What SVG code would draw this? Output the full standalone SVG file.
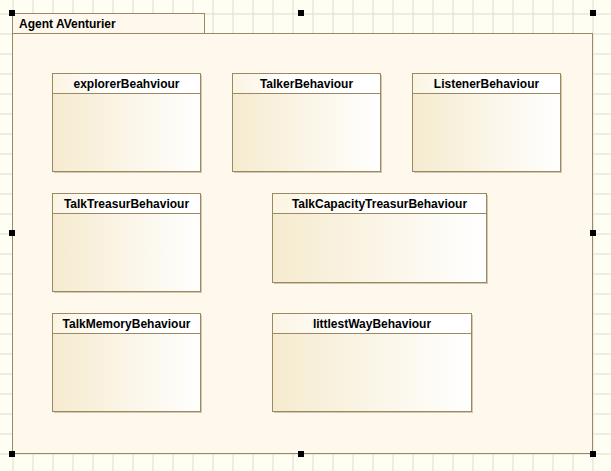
<svg xmlns="http://www.w3.org/2000/svg" width="611" height="471" viewBox="0 0 611 471">
<defs>
<pattern id="grid" x="12.5" y="13.5" width="20" height="20" patternUnits="userSpaceOnUse">
<path d="M0 0.5H20M0.5 0V20" fill="none" stroke="#dcdcd2" stroke-width="1"/>
</pattern>
<linearGradient id="cls" x1="0" y1="0" x2="1" y2="0">
<stop offset="0" stop-color="#f6ebcf"/>
<stop offset="1" stop-color="#ffffff"/>
</linearGradient>
<linearGradient id="hdr" x1="0" y1="0" x2="1" y2="0">
<stop offset="0" stop-color="#fbf4e2"/>
<stop offset="0.4" stop-color="#ffffff"/>
<stop offset="1" stop-color="#ffffff"/>
</linearGradient>
</defs>
<style>
.pkg{fill:#fff8ec;stroke:#9a8a62;stroke-width:1}
.box{fill:url(#cls);stroke:#9a8a62;stroke-width:1}
.hd{fill:url(#hdr)}
.sh{fill:#d3c8ad}
.sep{stroke:#9a8a62;stroke-width:1}
.t{font-family:"Liberation Sans",Arial,sans-serif;font-weight:bold;font-size:12px;fill:#000;text-anchor:middle}
.pt{font-family:"Liberation Sans",Arial,sans-serif;font-weight:bold;font-size:12px;fill:#000}
.h{fill:#000}
</style>
<rect width="611" height="471" fill="#fefef2"/>
<rect width="611" height="471" fill="url(#grid)"/>
<g id="package">
<rect class="pkg" x="12.5" y="13.5" width="192" height="20"/>
<rect class="pkg" x="12.5" y="33.5" width="580" height="420"/>
<text class="pt" x="19" y="27.5">Agent AVenturier</text>
</g>
<g id="explorerBeahviour">
<rect class="sh" x="54" y="75" width="148" height="98"/>
<rect class="box" x="52.5" y="73.5" width="148" height="98"/>
<rect class="hd" x="53" y="74" width="147" height="19"/>
<line class="sep" x1="52.5" y1="93.5" x2="200.5" y2="93.5"/>
<text class="t" x="126.5" y="87.5">explorerBeahviour</text>
</g>
<g id="TalkerBehaviour">
<rect class="sh" x="234" y="75" width="148" height="98"/>
<rect class="box" x="232.5" y="73.5" width="148" height="98"/>
<rect class="hd" x="233" y="74" width="147" height="19"/>
<line class="sep" x1="232.5" y1="93.5" x2="380.5" y2="93.5"/>
<text class="t" x="306.5" y="87.5">TalkerBehaviour</text>
</g>
<g id="ListenerBehaviour">
<rect class="sh" x="414" y="75" width="148" height="98"/>
<rect class="box" x="412.5" y="73.5" width="148" height="98"/>
<rect class="hd" x="413" y="74" width="147" height="19"/>
<line class="sep" x1="412.5" y1="93.5" x2="560.5" y2="93.5"/>
<text class="t" x="486.5" y="87.5">ListenerBehaviour</text>
</g>
<g id="TalkTreasurBehaviour">
<rect class="sh" x="54" y="195" width="148" height="98"/>
<rect class="box" x="52.5" y="193.5" width="148" height="98"/>
<rect class="hd" x="53" y="194" width="147" height="19"/>
<line class="sep" x1="52.5" y1="213.5" x2="200.5" y2="213.5"/>
<text class="t" x="126.5" y="207.5">TalkTreasurBehaviour</text>
</g>
<g id="TalkCapacityTreasurBehaviour">
<rect class="sh" x="274" y="195" width="214" height="89"/>
<rect class="box" x="272.5" y="193.5" width="214" height="89"/>
<rect class="hd" x="273" y="194" width="213" height="19"/>
<line class="sep" x1="272.5" y1="213.5" x2="486.5" y2="213.5"/>
<text class="t" x="379.5" y="207.5">TalkCapacityTreasurBehaviour</text>
</g>
<g id="TalkMemoryBehaviour">
<rect class="sh" x="54" y="315" width="148" height="98"/>
<rect class="box" x="52.5" y="313.5" width="148" height="98"/>
<rect class="hd" x="53" y="314" width="147" height="19"/>
<line class="sep" x1="52.5" y1="333.5" x2="200.5" y2="333.5"/>
<text class="t" x="126.5" y="327.5">TalkMemoryBehaviour</text>
</g>
<g id="littlestWayBehaviour">
<rect class="sh" x="274" y="315" width="199" height="98"/>
<rect class="box" x="272.5" y="313.5" width="199" height="98"/>
<rect class="hd" x="273" y="314" width="198" height="19"/>
<line class="sep" x1="272.5" y1="333.5" x2="471.5" y2="333.5"/>
<text class="t" x="372" y="327.5">littlestWayBehaviour</text>
</g>
<g id="connectors"></g>
<g id="handles">
<rect class="h" x="9" y="10" width="6" height="6"/>
<rect class="h" x="298" y="10" width="6" height="6"/>
<rect class="h" x="590" y="10" width="6" height="6"/>
<rect class="h" x="9" y="230" width="6" height="6"/>
<rect class="h" x="590" y="230" width="6" height="6"/>
<rect class="h" x="9" y="451" width="6" height="6"/>
<rect class="h" x="298" y="451" width="6" height="6"/>
<rect class="h" x="590" y="451" width="6" height="6"/>
</g>
</svg>
